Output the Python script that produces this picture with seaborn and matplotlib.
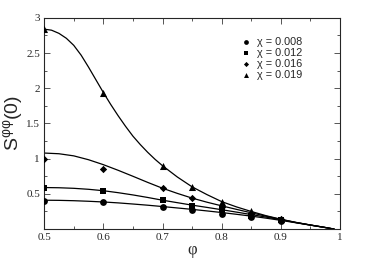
import numpy as np
import pandas as pd
import seaborn as sns
import matplotlib
matplotlib.use("Agg")
import matplotlib.pyplot as plt
from matplotlib.ticker import MultipleLocator, FixedLocator

# valores
chi = ["0.008", "0.012", "0.016", "0.019"]
marcadores = ["o", "s", "D", "^"]
tamanhos = [24, 20, 14, 26]

phi_pts = [0.5, 0.6, 0.7, 0.75, 0.8, 0.85, 0.9]
s_008 = [0.40, 0.385, 0.31, 0.27, 0.22, 0.165, 0.115]
s_012 = [0.58, 0.535, 0.41, 0.33, 0.28, 0.19, 0.13]
s_016 = [1.00, 0.86, 0.577, 0.435, 0.32, 0.22, 0.14]
s_019 = [2.84, 1.93, 0.90, 0.60, 0.39, 0.25, 0.15]

# curvas ajustadas (lidas a cada 0.025)
phi_fit = [0.5, 0.525, 0.55, 0.575, 0.6, 0.625, 0.65, 0.675, 0.7, 0.725, 0.75,
           0.775, 0.8, 0.825, 0.85, 0.875, 0.9, 0.925, 0.95, 0.975, 0.99]
fit_008 = [0.41, 0.408, 0.403, 0.395, 0.385, 0.372, 0.356, 0.339, 0.32, 0.30, 0.28,
           0.258, 0.235, 0.21, 0.184, 0.155, 0.124, 0.09, 0.056, 0.022, 0.0]
fit_012 = [0.59, 0.587, 0.579, 0.565, 0.545, 0.517, 0.485, 0.449, 0.41, 0.375, 0.34,
           0.308, 0.275, 0.241, 0.206, 0.17, 0.132, 0.093, 0.057, 0.022, 0.0]
fit_016 = [1.08, 1.07, 1.04, 0.985, 0.915, 0.835, 0.75, 0.663, 0.58, 0.507, 0.44,
           0.382, 0.33, 0.28, 0.231, 0.183, 0.137, 0.094, 0.057, 0.022, 0.0]

# a curva de chi = 0.019 tem mais pontos no inicio (curvatura forte)
phi_fit_019 = [0.5, 0.5125, 0.525, 0.5375, 0.55, 0.5625, 0.575, 0.5875, 0.6,
               0.6125, 0.625, 0.6375, 0.65, 0.6625, 0.675, 0.6875, 0.7, 0.725,
               0.75, 0.775, 0.8, 0.825, 0.85, 0.875, 0.9, 0.925, 0.95, 0.975, 0.99]
fit_019 = [2.84, 2.825, 2.78, 2.71, 2.61, 2.47, 2.30, 2.12, 1.94,
           1.77, 1.61, 1.46, 1.32, 1.20, 1.09, 0.99, 0.90, 0.74,
           0.60, 0.49, 0.39, 0.315, 0.25, 0.19, 0.14, 0.096, 0.058, 0.023, 0.0]

pontos = [s_008, s_012, s_016, s_019]
curvas = [(phi_fit, fit_008), (phi_fit, fit_012), (phi_fit, fit_016),
          (phi_fit_019, fit_019)]

xticks = [0.5, 0.6, 0.7, 0.8, 0.9, 1.0]
xlabels = ["0.5", "0.6", "0.7", "0.8", "0.9", "1"]
yticks = [0.5, 1.0, 1.5, 2.0, 2.5, 3.0]
ylabels = ["0.5", "1", "1.5", "2", "2.5", "3"]

sns.set_style("ticks")
plt.rcParams["mathtext.default"] = "regular"

fig = plt.figure(figsize=(3.68, 2.75), dpi=100)
ax = fig.add_axes([0.12, 0.167, 0.804, 0.768])

for px, fit in curvas:
    tab = pd.DataFrame({"phi": px, "S": fit})
    sns.lineplot(data=tab, x="phi", y="S", color="black", lw=0.9, ax=ax,
                 sort=False, legend=False)

for c, m, tam, s in zip(chi, marcadores, tamanhos, pontos):
    tab = pd.DataFrame({"phi": phi_pts, "S": s})
    sns.scatterplot(data=tab, x="phi", y="S", marker=m, s=tam, color="black",
                    edgecolor="black", linewidth=0, ax=ax, label="χ = " + c,
                    zorder=3)

ax.set_xlim(0.5, 1.0)
ax.set_ylim(0, 3)
ax.xaxis.set_major_locator(FixedLocator(xticks))
ax.yaxis.set_major_locator(FixedLocator(yticks))
ax.xaxis.set_minor_locator(MultipleLocator(0.05))
ax.yaxis.set_minor_locator(MultipleLocator(0.25))
ax.set_xticklabels(xlabels, family="Liberation Serif", fontsize=8)
ax.set_yticklabels(ylabels, family="Liberation Serif", fontsize=8)
ax.tick_params(which="both", direction="in", top=True, right=True,
               width=0.7, color="#555555")
ax.tick_params(which="major", length=4, pad=3)
ax.tick_params(which="minor", length=2.5)
for sp in ax.spines.values():
    sp.set_linewidth(0.8)

ax.set_xlabel("φ", family="Liberation Serif", fontsize=12, labelpad=0)
ax.set_ylabel("S$^{φφ}$(0)", family="Liberation Sans", fontsize=14, labelpad=1)

leg = ax.legend(loc="upper right", bbox_to_anchor=(0.905, 0.955), frameon=False,
                prop={"family": "Liberation Sans", "size": 7.8},
                handletextpad=0.5, labelspacing=0.08, handlelength=1.0,
                markerscale=0.7)

fig.savefig("out.png", dpi=100)
